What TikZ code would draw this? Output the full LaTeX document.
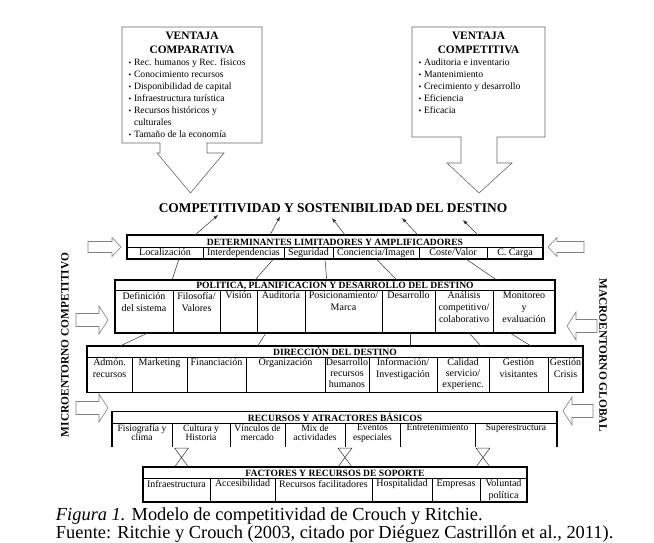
\documentclass[tikz,border=0pt]{standalone}
\usepackage{fontspec}
\setmainfont{Liberation Serif}
\usetikzlibrary{arrows.meta}
\newcommand{\smallbul}{\makebox[5.5pt][l]{\scalebox{0.8}{\textbullet}}}

\begin{document}
\begin{tikzpicture}[x=1pt,y=-1pt,
  >={Latex[length=4.5pt,width=3.5pt]},
  every node/.style={inner sep=0pt,outer sep=0pt},
  tableframe/.style={draw=black,line width=1.2pt},
  rule/.style={draw=black,line width=0.75pt},
  link/.style={draw=black!80,line width=0.5pt},
  rise/.style={->,draw=black!80,line width=0.5pt},
  callout/.style={draw=black!60,line width=0.6pt},
  sidearrow/.style={draw=black!50,line width=0.6pt},
  maintitle/.style={font=\fontsize{13.4}{16}\selectfont\bfseries},
  boxtitle/.style={anchor=north,align=center,font=\fontsize{11.4}{14}\selectfont\bfseries},
  bullets/.style={anchor=north west,align=left,font=\fontsize{9.7}{12}\selectfont},
  rowhead/.style={anchor=base,font=\fontsize{9.6}{11}\selectfont\bfseries},
  cell/.style={anchor=north,align=center,font=\fontsize{10}{12}\selectfont},
  tightcell/.style={cell,font=\fontsize{9.6}{9.6}\selectfont},
  sidelabel/.style={font=\fontsize{11.4}{13}\selectfont\bfseries},
  captiontext/.style={anchor=base west,font=\fontsize{18.4}{18}\selectfont}
]
  \useasboundingbox (0,0) rectangle (654,542);

  % advantage boxes
  \draw[callout] (122,27) -- (262,27) -- (262,143) -- (207,143) -- (207,153)
    -- (224,153) -- (190.5,193) -- (157,153) -- (160,153) -- (160,143)
    -- (122,143) -- cycle;
  \node[boxtitle] (comptitle) at (192,32) {VENTAJA\\COMPARATIVA};
  \node[bullets] (complist) at (128.5,58.5)
    {\smallbul Rec. humanos y Rec. físicos\\
     \smallbul Conocimiento recursos\\
     \smallbul Disponibilidad de capital\\
     \smallbul Infraestructura turística\\
     \smallbul Recursos históricos y\\
     \hspace*{5.5pt}culturales\\
     \smallbul Tamaño de la economía};

  \draw[callout] (412,27) -- (545,27) -- (545,137) -- (497,137) -- (497,163)
    -- (512,163) -- (479,193) -- (447,163) -- (461,163) -- (461,137)
    -- (412,137) -- cycle;
  \node[boxtitle] (compettitle) at (478.5,32) {VENTAJA\\COMPETITIVA};
  \node[bullets] (competlist) at (418.5,58.5)
    {\smallbul Auditoria e inventario\\
     \smallbul Mantenimiento\\
     \smallbul Crecimiento y desarrollo\\
     \smallbul Eficiencia\\
     \smallbul Eficacia};

  \node[maintitle] (goal) at (333,208) {COMPETITIVIDAD Y SOSTENIBILIDAD DEL DESTINO};

  % environment arrows
  \draw[sidearrow] (88,241.5) -- (112,241.5) -- (112,237.5) -- (121,247)
    -- (112,256.5) -- (112,252.5) -- (88,252.5) -- cycle;
  \draw[sidearrow] (76,313.5) -- (99,313.5) -- (99,306) -- (108,320)
    -- (99,334) -- (99,326.5) -- (76,326.5) -- cycle;
  \draw[sidearrow] (76,401.5) -- (99,401.5) -- (99,394) -- (108,408)
    -- (99,422) -- (99,414.5) -- (76,414.5) -- cycle;
  \draw[sidearrow] (584,241.5) -- (557,241.5) -- (557,237.5) -- (548,247)
    -- (557,256.5) -- (557,252.5) -- (584,252.5) -- cycle;
  \draw[sidearrow] (597,319.5) -- (576,319.5) -- (576,312) -- (567,326)
    -- (576,340) -- (576,332.5) -- (597,332.5) -- cycle;
  \draw[sidearrow] (593,404.5) -- (572,404.5) -- (572,397) -- (563,411)
    -- (572,425) -- (572,417.5) -- (593,417.5) -- cycle;

  \node[sidelabel,rotate=90] (micro) at (65,345) {MICROENTORNO COMPETITIVO};
  \node[sidelabel,rotate=-90] (macro) at (603,355) {MACROENTORNO GLOBAL};

  % determinantes
  \draw[tableframe] (127,235) rectangle (543,259);
  \draw[rule] (127,247) -- (543,247);
  \foreach \x in {203,284,333,419,487} \draw[rule] (\x,247) -- (\x,259);
  \node[rowhead] (dethead) at (335,245) {DETERMINANTES LIMITADORES Y AMPLIFICADORES};
  \node[cell] (detloc) at (165,248.5) {Localización};
  \node[cell] (detint) at (243.5,248.5) {Interdependencias};
  \node[cell] (detseg) at (308.5,248.5) {Seguridad};
  \node[cell] (detcon) at (376,248.5) {Conciencia/Imagen};
  \node[cell] (detcos) at (453,248.5) {Coste/Valor};
  \node[cell] (detcar) at (515,248.5) {C. Carga};

  % politica
  \draw[tableframe] (115,280) rectangle (555,333);
  \draw[rule] (115,290.5) -- (555,290.5);
  \foreach \x in {173,220,257,305,382,435,493} \draw[rule] (\x,290.5) -- (\x,333);
  \node[rowhead] (polhead) at (335,288.5) {POLÍTICA, PLANIFICACIÓN Y DESARROLLO DEL DESTINO};
  \node[cell] (poldef) at (144,292) {Definición\\del sistema};
  \node[cell] (polfil) at (196.5,292) {Filosofía/\\Valores};
  \node[cell] (polvis) at (238.5,292) {Visión};
  \node[cell] (polaud) at (281,292) {Auditoría};
  \node[cell] (polpos) at (343.5,292) {Posicionamiento/\\Marca};
  \node[cell] (poldes) at (408.5,292) {Desarrollo};
  \node[cell] (polana) at (464,292) {Análisis\\competitivo/\\colaborativo};
  \node[cell] (polmon) at (524,292) {Monitoreo\\y\\evaluación};

  % direccion
  \draw[tableframe] (87,346) rectangle (583,392.5);
  \draw[rule] (87,357) -- (583,357);
  \foreach \x in {132,187,246,325,369,437.5,489,548} \draw[rule] (\x,357) -- (\x,392.5);
  \node[rowhead] (dirhead) at (335,355) {DIRECCIÓN DEL DESTINO};
  \node[cell] (diradm) at (109.5,358.5) {Admón.\\recursos};
  \node[cell] (dirmar) at (159.5,358.5) {Marketing};
  \node[cell] (dirfin) at (216.5,358.5) {Financiación};
  \node[cell] (dirorg) at (285.5,358.5) {Organización};
  \node[cell,font=\fontsize{10}{11}\selectfont] (dirdes) at (347,358.5) {Desarrollo\\recursos\\humanos};
  \node[cell] (dirinf) at (403,358.5) {Información/\\Investigación};
  \node[cell,font=\fontsize{10}{11}\selectfont] (dircal) at (463,358.5) {Calidad\\servicio/\\experienc.};
  \node[cell] (dirvis) at (518.5,358.5) {Gestión\\visitantes};
  \node[cell] (dircri) at (565.5,358.5) {Gestión\\Crisis};

  % politica -> direccion, politica -> determinantes -> meta
  \foreach \i/\a/\b in {1/147.6/120,2/266/257.6,3/410.5/410.5,4/469/481,5/510/531}{
    \coordinate (pb\i) at (\a,333);
    \coordinate (dt\i) at (\b,346);
    \draw[link] (pb\i) -- (dt\i);
  }
  \foreach \i/\a/\b in {1/172/179,2/255/273.5,3/326.7/325,4/396.7/376.3,5/496.7/466}{
    \coordinate (pt\i) at (\a,280);
    \coordinate (db\i) at (\b,259);
    \draw[link] (pt\i) -- (db\i);
  }
  \foreach \i/\a/\b/\c in {1/195/218/215,2/270/280/216.5,3/345/332/218,4/418/402/218,5/478/463/220}{
    \coordinate (de\i) at (\a,235);
    \coordinate (go\i) at (\b,\c);
    \draw[rise] (de\i) -- (go\i);
  }

  % recursos
  \draw[tableframe] (112,447) -- (112,411.5) -- (557,411.5) -- (557,447);
  \draw[rule] (112,423) -- (557,423);
  \foreach \x in {172,230,285,345,400,475} \draw[rule] (\x,423) -- (\x,447);
  \node[rowhead] (rechead) at (335,421) {RECURSOS Y ATRACTORES BÁSICOS};
  \node[tightcell] (recfis) at (142,424.5) {Fisiografía y\\clima};
  \node[tightcell] (reccul) at (201,424.5) {Cultura y\\Historia};
  \node[tightcell] (recvin) at (257.5,424.5) {Vínculos de\\mercado};
  \node[tightcell] (recmix) at (315,424.5) {Mix de\\actividades};
  \node[tightcell] (receve) at (372.5,424.5) {Eventos\\especiales};
  \node[tightcell] (recent) at (437.5,424.5) {Entretenimiento};
  \node[tightcell] (recsup) at (516,424.5) {Superestructura};

  % recursos <-> factores
  \foreach \x in {181.5,345,483}
    \draw[link] (\x-7,448) -- (\x+7,448) -- (\x-7,467) (\x-7,448) -- (\x+7,467);

  % factores
  \draw[tableframe] (143,467) rectangle (527,502);
  \draw[rule] (143,478.5) -- (527,478.5);
  \foreach \x in {210,275,372,432,480} \draw[rule] (\x,478.5) -- (\x,502);
  \node[rowhead] (fachead) at (335,476.5) {FACTORES Y RECURSOS DE SOPORTE};
  \node[cell] (facinf) at (176.5,480) {Infraestructura};
  \node[cell] (facacc) at (242.5,480) {Accesibilidad};
  \node[cell] (facrec) at (323.5,480) {Recursos facilitadores};
  \node[cell] (fachos) at (402,480) {Hospitalidad};
  \node[cell] (facemp) at (456,480) {Empresas};
  \node[cell] (facvol) at (503.5,480) {Voluntad\\política};

  % caption
  \node[captiontext] (caption) at (56,520)
    {\textit{Figura 1.} Modelo de competitividad de Crouch y Ritchie.};
  \node[captiontext] (source) at (56,538)
    {Fuente: Ritchie y Crouch (2003, citado por Diéguez Castrillón et al., 2011).};
\end{tikzpicture}
\end{document}
